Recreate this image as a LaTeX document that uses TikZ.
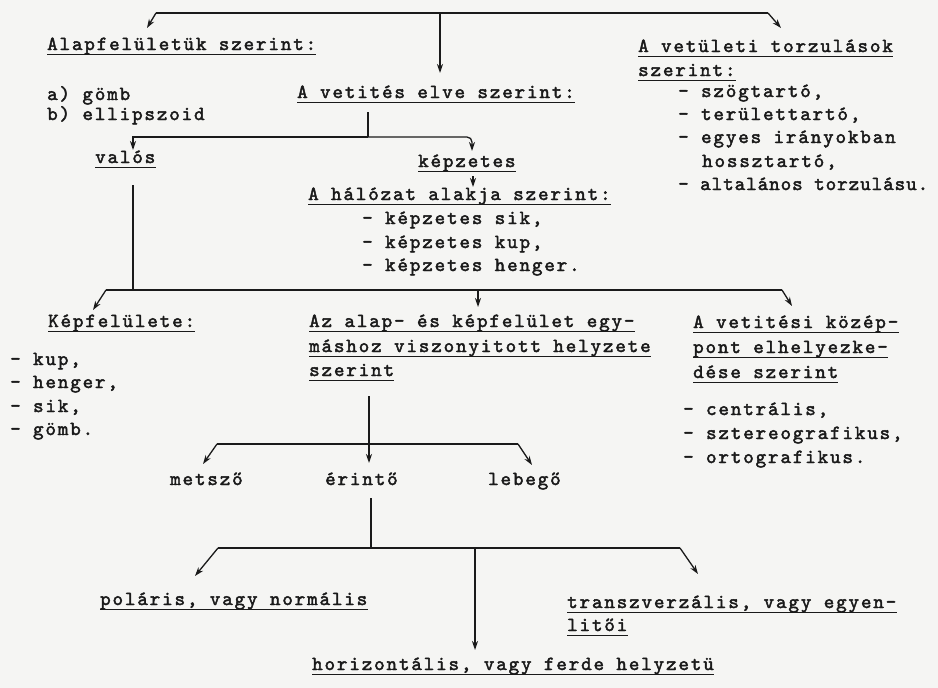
\documentclass[tikz,border=0pt]{standalone}
\usepackage{fontspec}
\newfontfamily\tw{lmmono10-regular.otf}[LetterSpace=9.5,FakeBold=2.2]
\usetikzlibrary{arrows.meta,calc}
\definecolor{ink}{HTML}{1A1A1A}
\definecolor{paper}{HTML}{F5F5F3}
\begin{document}
\begin{tikzpicture}[x=1pt,y=-1pt,
  ln/.style={draw=ink,line width=1.3pt},
  arr/.style={ln,-{Stealth[length=9pt,width=6pt]}},
  txt/.style={anchor=base west,inner sep=0pt,text=ink,font=\tw\fontsize{20}{22}\selectfont},
  ul/.style={txt,append after command={($(\tikzlastnode.base west)+(0,4.5)$) edge[ln] ($(\tikzlastnode.base east)+(0,4.5)$)}}]
\fill[paper] (0,0) rectangle (938,688);
\useasboundingbox (0,0) rectangle (938,688);

% ---- texts, top level
\node[ul]  (alap) at (47,50)  {Alapfelületük szerint:};
\node[txt] (ag)   at (47,100) {a) gömb};
\node[txt] (be)   at (47,120) {b) ellipszoid};
\node[ul]  (elve) at (297,98) {A vetités elve szerint:};
\node[ul]  (tor1) at (638,52) {A vetületi torzulások};
\node[ul]  (tor2) at (638,76) {szerint:};
\node[txt] (t1) at (678,97)  {- szögtartó,};
\node[txt] (t2) at (678,120) {- területtartó,};
\node[txt] (t3) at (678,143) {- egyes irányokban};
\node[txt] (t4) at (702,167) {hossztartó,};
\node[txt,font=\tw\fontsize{20}{22}\selectfont\addfontfeature{LetterSpace=5}] (t5) at (678,190) {- altalános torzulásu.};

% ---- second level
\node[ul]  (valos) at (95,163)  {valós};
\node[ul]  (kepz)  at (418,167) {képzetes};
\node[ul]  (hal)   at (308,200) {A hálózat alakja szerint:};
\node[txt] (h1) at (362,224) {- képzetes sik,};
\node[txt] (h2) at (362,248) {- képzetes kup,};
\node[txt] (h3) at (362,271) {- képzetes henger.};

% ---- third level
\node[ul]  (kepf) at (48,327) {Képfelülete:};
\node[txt] (k1) at (10,365) {- kup,};
\node[txt] (k2) at (10,388) {- henger,};
\node[txt] (k3) at (10,412) {- sik,};
\node[txt] (k4) at (10,435) {- gömb.};
\node[ul]  (az1) at (309,327) {Az alap- és képfelület egy-};
\node[ul]  (az2) at (309,352) {máshoz viszonyitott helyzete};
\node[ul]  (az3) at (309,376) {szerint};
\node[ul]  (vk1) at (693,328) {A vetitési közép-};
\node[ul]  (vk2) at (693,353) {pont elhelyezke-};
\node[ul]  (vk3) at (693,378) {dése szerint};
\node[txt] (c1) at (683,415) {- centrális,};
\node[txt] (c2) at (683,439) {- sztereografikus,};
\node[txt] (c3) at (683,463) {- ortografikus.};

% ---- fourth level
\node[txt] (mets)  at (170,485) {metsző};
\node[txt] (erint) at (325,485) {érintő};
\node[txt] (lebeg) at (488,485) {lebegő};

% ---- fifth level
\node[ul] (pol) at (100,605) {poláris, vagy normális};
\node[ul] (tr1) at (567,608) {transzverzális, vagy egyen-};
\node[ul] (tr2) at (567,631) {litői};
\node[ul] (hor) at (312,670) {horizontális, vagy ferde helyzetü};

% ---- connectors: top
\coordinate (hub)  at (440,13);
\coordinate (hubL) at (156,13);
\coordinate (hubR) at (768,13);
\draw[ln] (hubL) -- (hubR);
\draw[arr] (hubL) -- ($(alap.base west)+(100,-22)$);
\draw[arr] (hub) -- ($(hub |- elve.base)+(0,-25)$);
\draw[arr] (hubR) -- ($(tor1.base west)+(143,-24)$);

% ---- elve -> valos / kepzetes
\coordinate (vsplit) at (368,137);
\draw[ln] ($(elve.base west)+(71,14)$) -- (vsplit);
\draw[arr] (vsplit) -| ($(valos.base west)+(38,-13)$);
\draw[arr,rounded corners=5pt] (vsplit) -| ($(kepz.base west)+(54,-16)$);
\draw[arr] ($(kepz.base west)+(55,9)$) -- ($(hal.base west)+(165,-13)$);

% ---- valos -> third level
\coordinate (m2)   at (133,290);
\coordinate (m2L)  at (106,290);
\coordinate (m2R)  at (782,290);
\coordinate (m2C)  at (478,290);
\draw[ln] ($(valos.base west)+(38,22)$) -- (m2);
\draw[ln] (m2L) -- (m2R);
\draw[arr] (m2L) -- ($(kepf.base west)+(45,-17)$);
\draw[arr] (m2C) -- ($(az1.base west)+(169,-20)$);
\draw[arr] (m2R) -- ($(vk1.base west)+(99,-22)$);

% ---- az -> metsző / érintő / lebegő
\coordinate (m3L) at (217,444);
\coordinate (m3R) at (518,444);
\draw[ln] (m3L) -- (m3R);
\draw[arr] ($(az3.base west)+(60,20)$) -- ($(erint.base west)+(44,-22)$);
\draw[arr] (m3L) -- ($(mets.base west)+(33,-21)$);
\draw[arr] (m3R) -- ($(lebeg.base west)+(44,-20)$);

% ---- érintő -> fifth level
\coordinate (m4)  at (371,548);
\coordinate (m4L) at (218,548);
\coordinate (m4R) at (680,548);
\coordinate (m4C) at (475,548);
\draw[ln] ($(erint.base west)+(46,13)$) -- (m4);
\draw[ln] (m4L) -- (m4R);
\draw[arr] (m4L) -- ($(pol.base west)+(95,-29)$);
\draw[arr] (m4C) -- ($(hor.base west)+(163,-20)$);
\draw[arr] (m4R) -- ($(tr1.base west)+(131,-34)$);
\end{tikzpicture}
\end{document}
